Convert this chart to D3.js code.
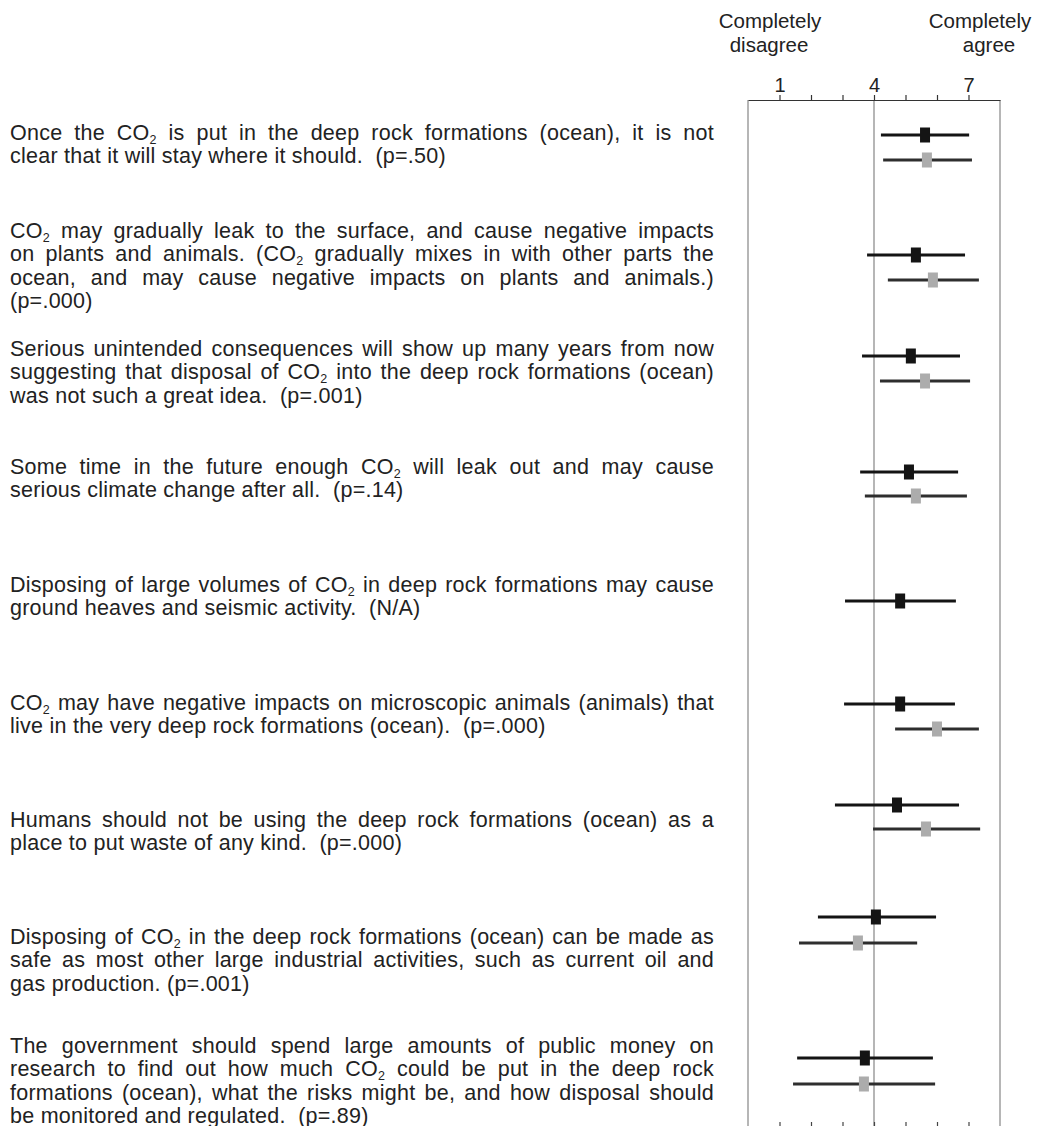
<!DOCTYPE html>
<html>
<head>
<meta charset="utf-8">
<script src="https://cdn.jsdelivr.net/npm/d3@7"></script>
<style>
  html, body { margin: 0; padding: 0; background: #fff; }
  svg { display: block; }
  text { font-family: "Liberation Sans", Arial, Helvetica, sans-serif; fill: #222; }
</style>
</head>
<body>
<svg id="chart" width="1042" height="1126"></svg>
<script>
// Statements, one entry per line as printed; {2} marks a subscript digit.
const statements = [
  ["Once the CO{2} is put in the deep rock formations (ocean), it is not",
   "clear that it will stay where it should.  (p=.50)"],
  ["CO{2} may gradually leak to the surface, and cause negative impacts",
   "on plants and animals. (CO{2} gradually mixes in with other parts the",
   "ocean, and may cause negative impacts on plants and animals.)",
   "(p=.000)"],
  ["Serious unintended consequences will show up many years from now",
   "suggesting that disposal of CO{2} into the deep rock formations (ocean)",
   "was not such a great idea.  (p=.001)"],
  ["Some time in the future enough CO{2} will leak out and may cause",
   "serious climate change after all.  (p=.14)"],
  ["Disposing of large volumes of CO{2} in deep rock formations may cause",
   "ground heaves and seismic activity.  (N/A)"],
  ["CO{2} may have negative impacts on microscopic animals (animals) that",
   "live in the very deep rock formations (ocean).  (p=.000)"],
  ["Humans should not be using the deep rock formations (ocean) as a",
   "place to put waste of any kind.  (p=.000)"],
  ["Disposing of CO{2} in the deep rock formations (ocean) can be made as",
   "safe as most other large industrial activities, such as current oil and",
   "gas production. (p=.001)"],
  ["The government should spend large amounts of public money on",
   "research to find out how much CO{2} could be put in the deep rock",
   "formations (ocean), what the risks might be, and how disposal should",
   "be monitored and regulated.  (p=.89)"]
];

// Rock-formation group (black): mean and interval ends on the 1-7 scale
const rockMean = [5.62, 5.33, 5.17, 5.11, 4.83, 4.83, 4.73, 4.06, 3.71];
const rockLow  = [4.22, 3.78, 3.62, 3.56, 3.08, 3.05, 2.76, 2.22, 1.56];
const rockHigh = [7.02, 6.89, 6.73, 6.67, 6.60, 6.57, 6.70, 5.97, 5.87];

// Ocean group (grey); the fifth statement was not asked of this group
const oceanMean = [5.68, 5.87, 5.62, 5.33, null, 6.00, 5.65, 3.49, 3.68];
const oceanLow  = [4.29, 4.44, 4.19, 3.71, null, 4.67, 3.97, 1.62, 1.43];
const oceanHigh = [7.11, 7.33, 7.05, 6.95, null, 7.33, 7.37, 5.37, 5.94];

const scaleTicks = [1, 2, 3, 4, 5, 6, 7];
const scaleTickLabels = {1: "1", 4: "4", 7: "7"};
const endLabels = [["Completely", "disagree"], ["Completely", "agree"]];

// ---- layout ----
const svg = d3.select("#chart");
const textLeft = 10, textRight = 714;
const fontSize = 21.5, tracking = 0.25, lineStep = 23.3;
const rows = d3.range(statements.length);

const x = d3.scaleLinear().domain([0, 8]).range([748, 1000]);

// vertical placement of each statement block and its two interval rows
const textTop  = d3.scaleOrdinal().domain(rows).range([133, 231, 349, 467, 585, 703, 820, 937, 1046]);
const rockRow  = d3.scaleOrdinal().domain(rows).range([135, 255, 356, 472, 601, 704, 805, 917, 1058]);
const oceanRow = d3.scaleOrdinal().domain(rows).range([160, 280, 381, 496, 626, 729, 829, 943, 1084]);

// ---- statement text, justified to the column ----
function fillWord(textSel, word) {
  const parts = word.split(/(\{\d\})/).filter(p => p.length);
  let shifted = false;
  parts.forEach(p => {
    const m = p.match(/^\{(\d)\}$/);
    if (m) {
      textSel.append("tspan").attr("dy", 3.5).style("font-size", "12.5px").text(m[1]);
      shifted = true;
    } else {
      const t = textSel.append("tspan").text(p);
      if (shifted) { t.attr("dy", -3.5); shifted = false; }
    }
  });
}
const charCount = w => w.replace(/\{(\d)\}/g, "$1").length;

const textG = svg.append("g").attr("class", "statements");
statements.forEach((lines, i) => {
  lines.forEach((line, j) => {
    const baseline = textTop(i) + j * lineStep + 7;
    const last = j === lines.length - 1;
    if (last) {
      const t = textG.append("text")
        .attr("x", textLeft).attr("y", baseline)
        .attr("letter-spacing", tracking)
        .style("font-size", fontSize + "px")
        .style("white-space", "pre");
      fillWord(t, line);
      return;
    }
    const words = line.split(" ");
    const nodes = words.map(w => {
      const t = textG.append("text").attr("y", baseline)
        .style("font-size", fontSize + "px");
      fillWord(t, w);
      return t;
    });
    const bare = nodes.map(n => n.node().getComputedTextLength());
    const span = textRight - textLeft;
    const minGap = fontSize * 0.24;
    const chars = d3.sum(words, charCount);
    // default tracking, tightened when the line would not fit
    let ls = tracking;
    const natural = d3.sum(bare) + ls * chars + minGap * (words.length - 1);
    if (natural > span) ls += (span - natural) / chars;
    nodes.forEach(n => n.attr("letter-spacing", ls));
    const widths = words.map((w, k) => bare[k] + ls * charCount(w));
    const gap = (span - d3.sum(widths)) / (words.length - 1);
    let cx = textLeft;
    nodes.forEach((n, k) => { n.attr("x", cx); cx += widths[k] + gap; });
  });
});

// ---- frame: vertical guides at the scale ends and the midpoint ----
const guideG = svg.append("g");
[0, 4, 8].forEach(v => {
  guideG.append("line")
    .attr("x1", x(v)).attr("x2", x(v))
    .attr("y1", 100).attr("y2", 1126)
    .attr("stroke", "#a4a4a4").attr("stroke-width", 1.6);
});

// top scale
const topAxis = d3.axisTop(x).tickValues(scaleTicks).tickSize(5).tickSizeOuter(0)
  .tickPadding(3).tickFormat(d => scaleTickLabels[d] || "");
const topG = svg.append("g").attr("transform", "translate(0,100)").call(topAxis);
topG.select(".domain").attr("stroke", "#333").attr("stroke-width", 1.2);
topG.selectAll(".tick line").attr("stroke", "#333").attr("stroke-width", 1.2);
topG.selectAll(".tick text").style("font-size", "20px")
  .style("font-family", "'Liberation Sans', Arial, sans-serif").attr("fill", "#222");

// bottom scale (only tick stubs fall inside the page)
const bottomAxis = d3.axisTop(x).tickValues(scaleTicks).tickSize(6).tickSizeOuter(0).tickFormat("");
const botG = svg.append("g").attr("transform", "translate(0,1128)").call(bottomAxis);
botG.select(".domain").attr("stroke", "#333");
botG.selectAll(".tick line").attr("stroke", "#444").attr("stroke-width", 1.2);

// end labels
const endG = svg.append("g");
[[0, 770, 769], [1, 980, 989]].forEach(([k, cx1, cx2]) => {
  endG.append("text").attr("x", cx1).attr("y", 28).attr("text-anchor", "middle")
    .style("font-size", "20.5px").text(endLabels[k][0]);
  endG.append("text").attr("x", cx2).attr("y", 52).attr("text-anchor", "middle")
    .style("font-size", "20.5px").text(endLabels[k][1]);
});

// ---- intervals ----
function drawSeries(mean, low, high, rowScale, lineColor, boxColor) {
  const data = rows.filter(i => mean[i] != null)
    .map(i => ({i, m: mean[i], lo: low[i], hi: high[i]}));
  const g = svg.append("g");
  g.selectAll("line").data(data).join("line")
    .attr("x1", d => x(d.lo)).attr("x2", d => x(d.hi))
    .attr("y1", d => rowScale(d.i)).attr("y2", d => rowScale(d.i))
    .attr("stroke", lineColor).attr("stroke-width", 3);
  g.selectAll("rect").data(data).join("rect")
    .attr("x", d => x(d.m) - 5).attr("y", d => rowScale(d.i) - 7.5)
    .attr("width", 10).attr("height", 15)
    .attr("fill", boxColor);
}
drawSeries(rockMean, rockLow, rockHigh, rockRow, "#141414", "#141414");
drawSeries(oceanMean, oceanLow, oceanHigh, oceanRow, "#2e2e2e", "#acacac");
</script>
</body>
</html>
